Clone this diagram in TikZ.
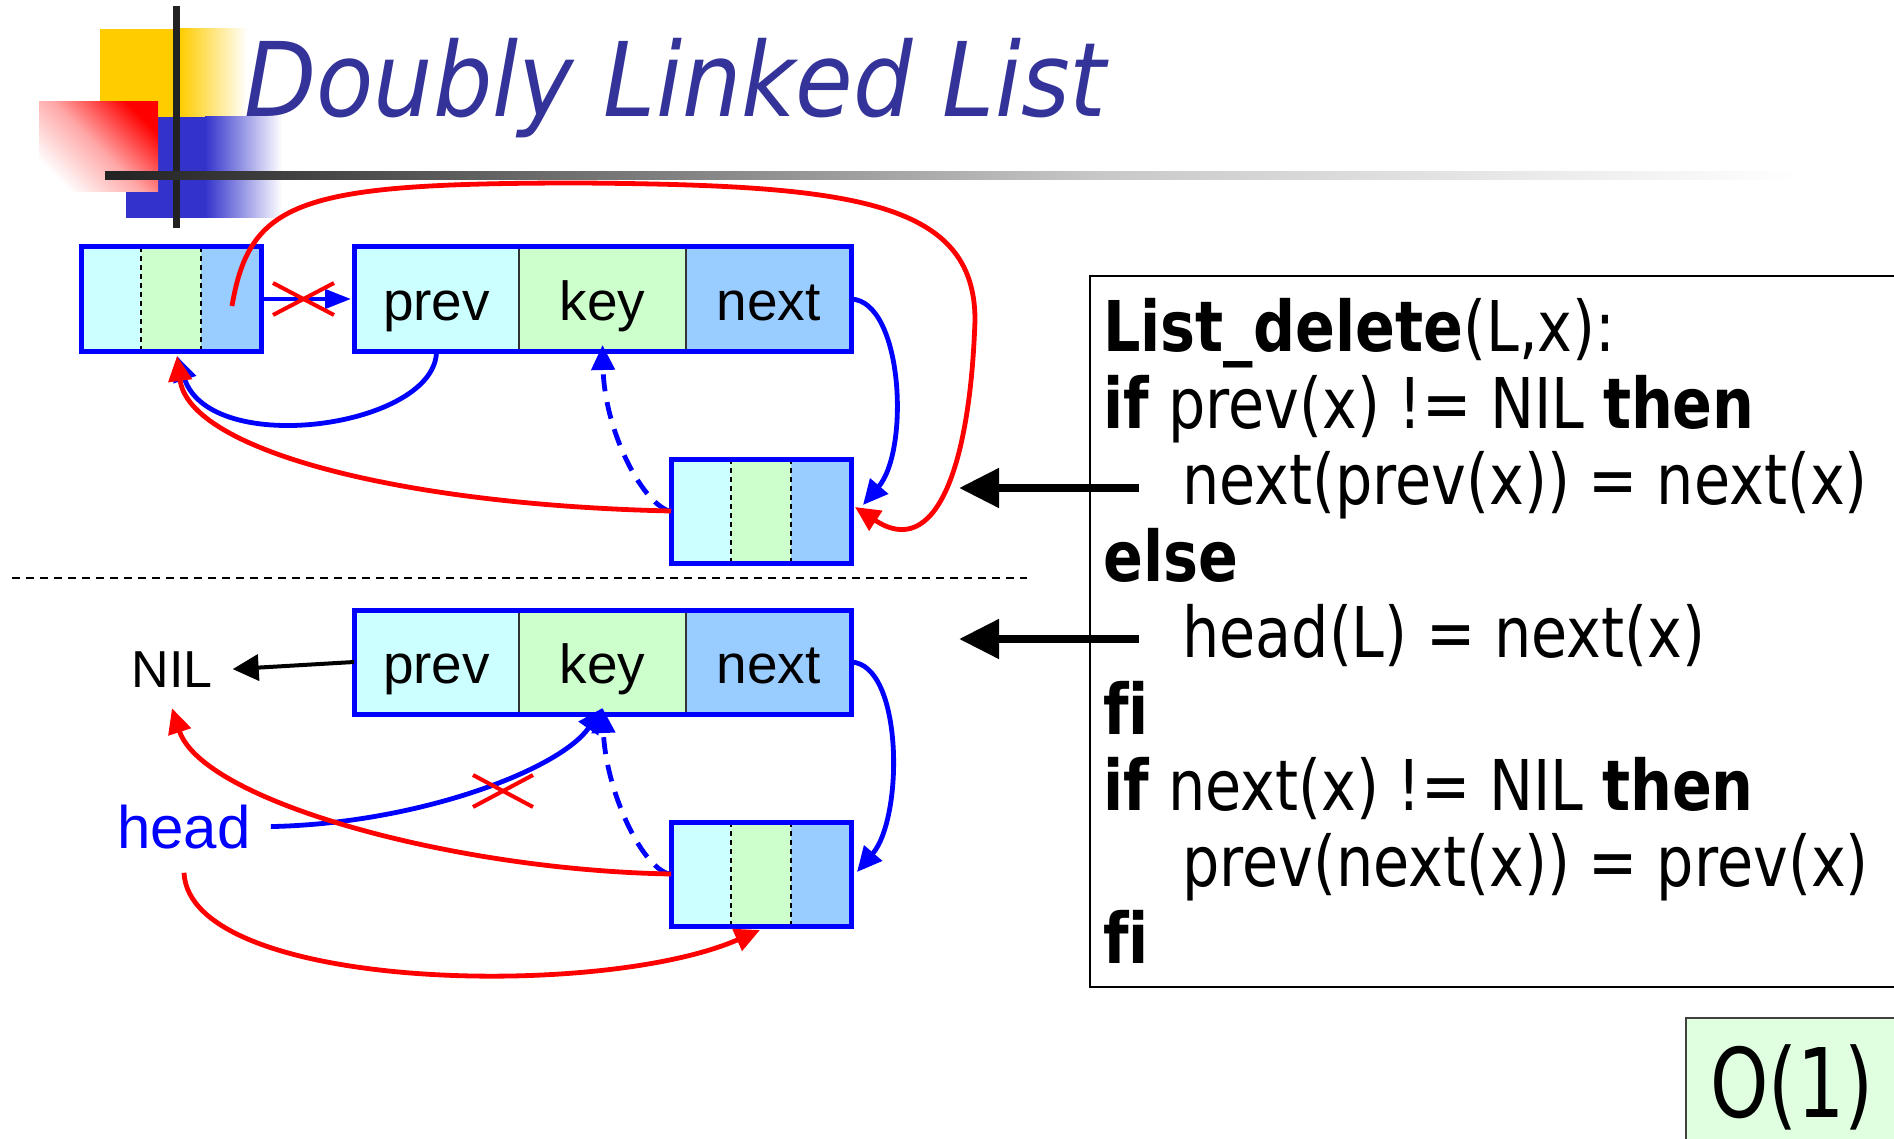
\documentclass[tikz,border=0pt]{standalone}
\usepackage{fontspec}
\setmainfont{Liberation Sans}
\newfontfamily\labelfont{Liberation Sans}
\newfontfamily\titlefont[FakeStretch=0.91]{DejaVu Sans}
\newfontfamily\codefont[FakeStretch=0.84,Ligatures=NoCommon]{DejaVu Sans}
\usetikzlibrary{arrows.meta}

\definecolor{cprev}{HTML}{CCFFFF}
\definecolor{ckey}{HTML}{CCFFCC}
\definecolor{cnext}{HTML}{99CCFF}
\definecolor{nodeblue}{HTML}{0000FF}
\definecolor{titleblue}{HTML}{333399}
\definecolor{cyellow}{HTML}{FFCC00}
\definecolor{cblue}{HTML}{3333CC}
\definecolor{cdark}{HTML}{222222}
\definecolor{cmid}{HTML}{C8C8C8}
\definecolor{ogreen}{HTML}{E0FFE0}

\begin{document}
\begin{tikzpicture}[x=1pt,y=-1pt,
  cell/.style={minimum height=104pt,inner sep=0pt,outer sep=0pt,
    text height=52pt,text depth=10pt,font=\labelfont\fontsize{55}{60}\selectfont},
  smallcell/.style={minimum width=60pt,minimum height=104pt,inner sep=0pt,outer sep=0pt},
  border/.style={draw=nodeblue,line width=5pt},
  divider/.style={draw=black!80,line width=1.4pt},
  sdivider/.style={draw=black,line width=1.5pt,dash pattern=on 5pt off 4pt},
  redline/.style={draw=red,line width=4.8pt},
  blueline/.style={draw=blue,line width=4.8pt},
  dashedblue/.style={blueline,dash pattern=on 17pt off 11pt},
  crossline/.style={draw=red,line width=4pt},
  bigtip/.style={-{Triangle[length=25pt,width=23pt]}},
  code/.style={anchor=base west,inner sep=0pt,font=\codefont\fontsize{70}{76}\selectfont},
  pointer/.style={draw=black,line width=8pt,-{Triangle[length=40pt,width=38pt]}}
]
\useasboundingbox (0,0) rectangle (1894,1139);
\clip (0,0) rectangle (1894,1139);

% --- corner ornament and rule ---
\fill[cyellow] (100,29) rectangle (180,118);
\shade[left color=cyellow,right color=white] (180,29) rectangle (247,118);
\fill[cblue] (126,117) rectangle (205,218);
\shade[left color=cblue,right color=white] (205,117) rectangle (282,218);
\shade[top color=red,bottom color=white,middle color=red!35!white,shading angle=-45] (39,102) rectangle (158,192);
\fill[cdark] (172.5,6) rectangle (179.5,228);
\shade[left color=cdark,right color=cmid] (105,172) rectangle (1100,180);
\shade[left color=cmid,right color=white] (1100,172) rectangle (1800,180);

\node[anchor=base west,inner sep=0pt,text=titleblue,
  font=\titlefont\itshape\fontsize{103}{110}\selectfont] (title) at (244,117) {Doubly Linked List};

% --- upper list: before deletion ---
\node[smallcell,fill=cprev] (s1p) at (111,299) {};
\node[smallcell,fill=ckey]  (s1k) at (171,299) {};
\node[smallcell,fill=cnext] (s1n) at (231,299) {};
\draw[sdivider] (s1k.north west) -- (s1k.south west) (s1k.north east) -- (s1k.south east);
\draw[border] (s1p.north west) rectangle (s1n.south east);

\node[cell,minimum width=165pt,fill=cprev] (tprev) at (436.5,299) {prev};
\node[cell,minimum width=167pt,fill=ckey]  (tkey)  at (602.5,299) {key};
\node[cell,minimum width=165pt,fill=cnext] (tnext) at (768.5,299) {next};
\draw[divider] (tkey.north west) -- (tkey.south west) (tkey.north east) -- (tkey.south east);
\draw[border] (tprev.north west) rectangle (tnext.south east);

\node[smallcell,fill=cprev] (s2p) at (701,511) {};
\node[smallcell,fill=ckey]  (s2k) at (761,511) {};
\node[smallcell,fill=cnext] (s2n) at (821,511) {};
\draw[sdivider] (s2k.north west) -- (s2k.south west) (s2k.north east) -- (s2k.south east);
\draw[border] (s2p.north west) rectangle (s2n.south east);

% --- lower list: x is the head ---
\node[cell,minimum width=165pt,fill=cprev] (bprev) at (436.5,662) {prev};
\node[cell,minimum width=167pt,fill=ckey]  (bkey)  at (602.5,662) {key};
\node[cell,minimum width=165pt,fill=cnext] (bnext) at (768.5,662) {next};
\draw[divider] (bkey.north west) -- (bkey.south west) (bkey.north east) -- (bkey.south east);
\draw[border] (bprev.north west) rectangle (bnext.south east);

\node[smallcell,fill=cprev] (b2p) at (701,874) {};
\node[smallcell,fill=ckey]  (b2k) at (761,874) {};
\node[smallcell,fill=cnext] (b2n) at (821,874) {};
\draw[sdivider] (b2k.north west) -- (b2k.south west) (b2k.north east) -- (b2k.south east);
\draw[border] (b2p.north west) rectangle (b2n.south east);

\node[anchor=base,inner xsep=20pt,inner ysep=21pt,
  font=\labelfont\fontsize{52}{56}\selectfont] (nil) at (172,687) {NIL};
\node[anchor=base,inner xsep=20pt,inner ysep=24pt,text=blue,
  font=\labelfont\fontsize{60}{64}\selectfont] (head) at (184,848) {head};

% separator
\coordinate (sepA) at (12,578);
\coordinate (sepB) at (1027,578);
\draw[line width=1.5pt,dash pattern=on 8pt off 6pt] (sepA) -- (sepB);

% --- pointers, upper list ---
\draw[draw=blue,line width=4.5pt,-{Triangle[length=26pt,width=19pt]},shorten >=3pt] (s1n.east) -- (tprev.west);
\coordinate (x1) at (303.5,299);
\draw[crossline] ([shift={(-30.5,-16)}]x1) -- ([shift={(30.5,16)}]x1)
                 ([shift={(-30.5,16)}]x1) -- ([shift={(30.5,-16)}]x1);
\draw[blueline,bigtip] (tprev.south) .. controls +(0,76) and +(34,103) .. ([shift={(6,5)}]s1k.south);
\draw[blueline,bigtip] (tnext.east) .. controls +(52,2) and +(47,-55) .. ([shift={(12,-6)}]s2n.east);
\draw[dashedblue,bigtip] ([xshift=-2pt]s2p.west)
  .. controls +(-29,-10) and +(2,83) .. ([yshift=6pt]tkey.south);
\draw[redline,bigtip] (s2p.west) .. controls +(-271,-6) and +(12,94) .. ([shift={(6,5)}]s1k.south);
\draw[redline,bigtip] ([shift={(1,7)}]s1n.center)
  .. controls +(18,-106) and +(-280,0) .. (580,183)
  .. controls +(270,2) and +(0,-120) .. (975,320)
  .. controls +(-5,150) and +(80,53) .. ([shift={(4,-4)}]s2n.east);

% --- pointers, lower list ---
\draw[draw=black,line width=4pt,-{Triangle[length=26pt,width=26pt]}] (bprev.west) -- (nil.east);
\draw[blueline,bigtip] (bnext.east) .. controls +(52,2) and +(47,-55) .. ([shift={(6,-2)}]b2n.east);
\draw[dashedblue,bigtip] ([xshift=-2pt]b2p.west)
  .. controls +(-29,-8) and +(3,80) .. ([yshift=6pt]bkey.south);
\draw[blueline,bigtip] (head.east) .. controls +(147,-3) and +(-43,62) .. ([yshift=6pt]bkey.south);
\coordinate (x2) at (503,791);
\draw[crossline] ([shift={(-30,-16)}]x2) -- ([shift={(30,16)}]x2)
                 ([shift={(-30,16)}]x2) -- ([shift={(30,-16)}]x2);
\draw[redline,bigtip] (b2p.west) .. controls +(-221,-4) and +(30,92) .. (nil.south);
\draw[redline,bigtip] (head.south) .. controls +(6,118) and +(-160,70) .. ([shift={(-1,4)}]b2k.south);

% --- pseudocode ---
\draw[line width=1.5pt] (1090,276) rectangle (1910,987);
\node[code] (c1) at (1103,352)   {\textbf{List\_delete}(L,x):};
\node[code] (c2) at (1103,428.4) {\textbf{if} prev(x) != NIL \textbf{then}};
\node[code] (c3) at (1182,504.8) {next(prev(x)) = next(x)};
\node[code] (c4) at (1103,581.2) {\textbf{else}};
\node[code] (c5) at (1182,657.6) {head(L) = next(x)};
\node[code] (c6) at (1103,734)   {\textbf{fi}};
\node[code] (c7) at (1103,810.4) {\textbf{if} next(x) != NIL \textbf{then}};
\node[code] (c8) at (1182,886.8) {prev(next(x)) = prev(x)};
\node[code] (c9) at (1103,963.2) {\textbf{fi}};

\coordinate (p1s) at (1139,488);
\coordinate (p1e) at (959,488);
\coordinate (p2s) at (1139,639);
\coordinate (p2e) at (959,639);
\draw[pointer] (p1s) -- (p1e);
\draw[pointer] (p2s) -- (p2e);

% --- cost ---
\draw[fill=ogreen,draw=black!75,line width=1.5pt] (1686,1018) rectangle (1910,1150);
\node[anchor=base west,inner sep=0pt,font=\codefont\fontsize{96}{100}\selectfont] (cost) at (1710,1117) {\scalebox{0.92}[1]{O(1)}};
\end{tikzpicture}
\end{document}
